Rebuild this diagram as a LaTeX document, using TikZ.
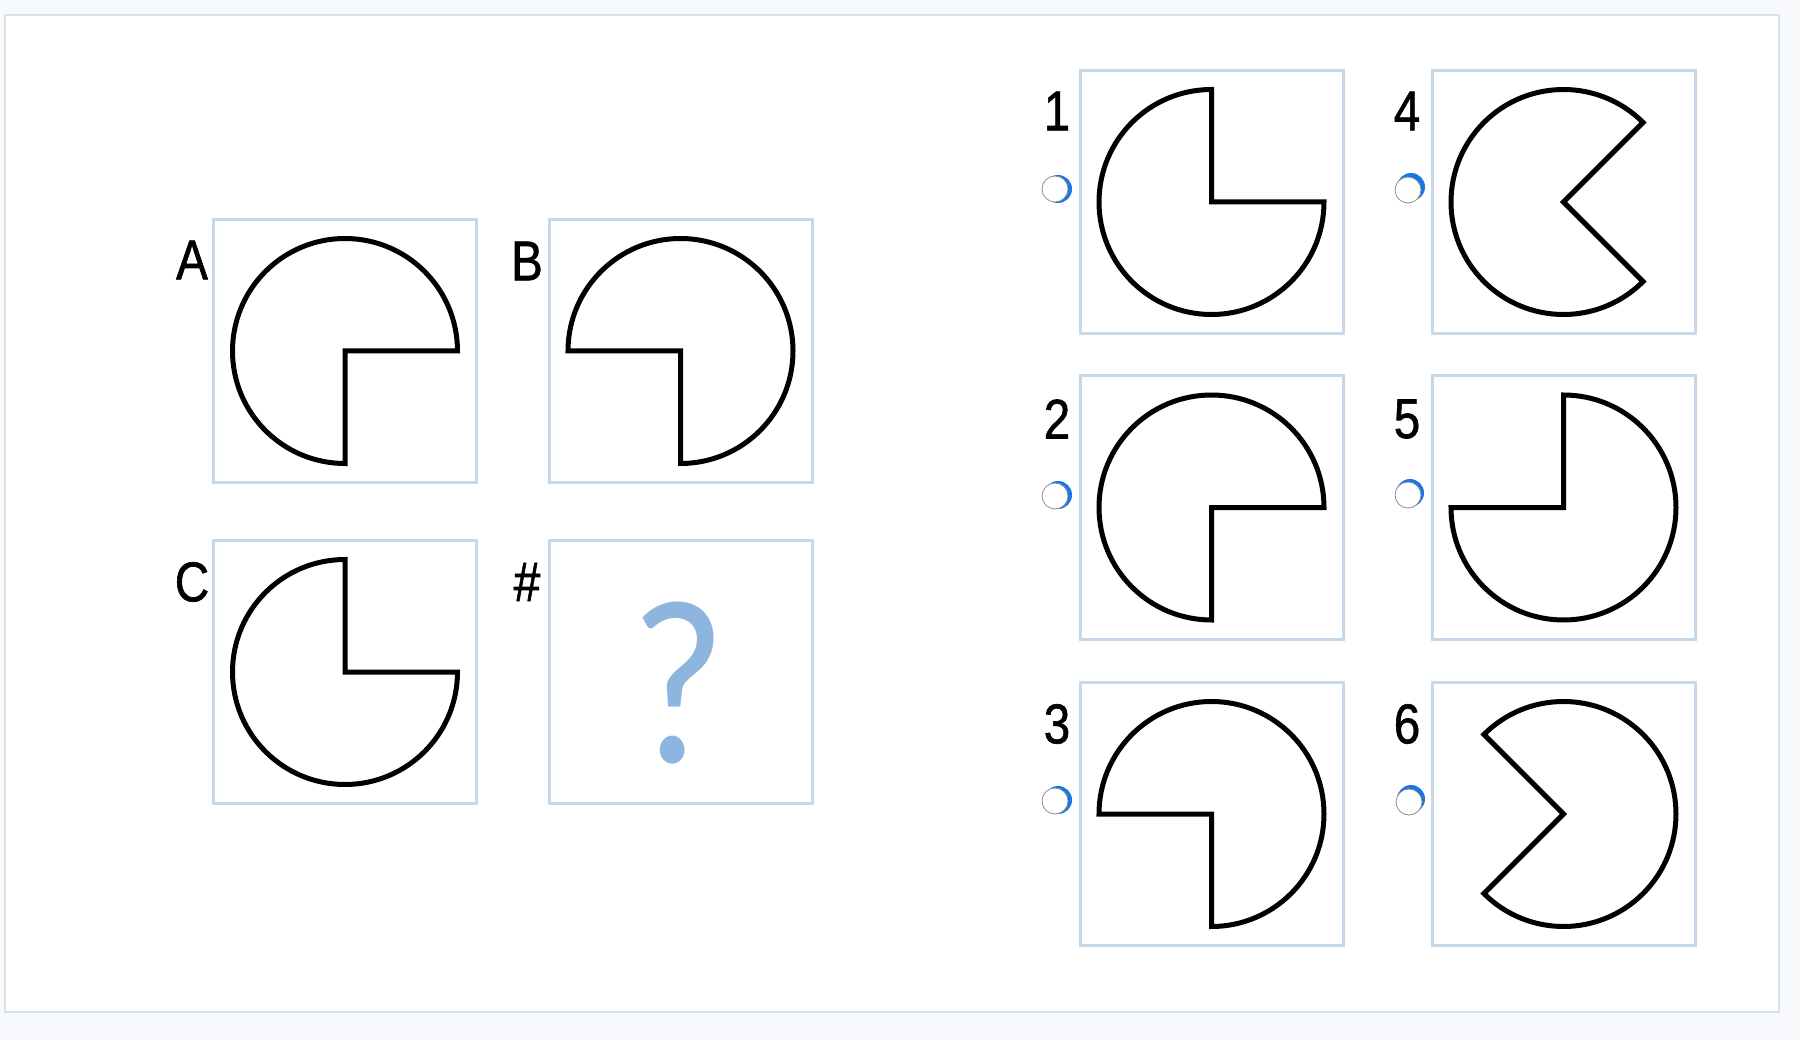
\documentclass[tikz,border=0pt]{standalone}
\usepackage{graphicx}
\usepackage{fontspec}
\setmainfont{Liberation Sans}
\newfontfamily\labfont[FakeBold=1.2]{Liberation Sans}
\newfontfamily\qfont{Carlito}
\definecolor{boxcol}{RGB}{198,215,234}
\definecolor{framecol}{RGB}{216,224,232}
\definecolor{bgcol}{RGB}{247,249,252}
\definecolor{qcol}{RGB}{141,181,224}
\definecolor{radioblue}{RGB}{25,118,230}
\newcommand\lab[1]{\scalebox{0.85}[1]{#1}}
\newcommand\pieshape[3]{\draw[figline] (#1.center) -- ++(#2:112.5) arc[start angle=#2,end angle=#3,radius=112.5] -- cycle;}
\begin{document}
\begin{tikzpicture}[x=1pt,y=-1pt,
  optbox/.style={draw=boxcol,line width=3pt,minimum size=263pt,inner sep=0pt},
  figline/.style={draw=black,line width=5pt,line join=miter,fill=white},
  lbl/.style={font=\labfont\fontsize{56}{60}\selectfont,inner sep=0pt},
  radiobtn/.style={circle,draw=black!45,line width=0.8pt,fill=white,minimum size=26pt,inner sep=0pt},
  radioshadow/.style={circle,fill=radioblue,minimum size=28pt,inner sep=0pt}]
\useasboundingbox (0,0) rectangle (1800,1040);
\fill[bgcol] (0,0) rectangle (1800,1040);
\draw[framecol,line width=2pt,fill=white] (5,15) rectangle (1779,1012);

% left grid
\node[optbox] (bA) at (345,351) {};
\node[optbox] (bB) at (680.5,351) {};
\node[optbox] (bC) at (345,672) {};
\node[optbox] (bQ) at (680.5,672) {};
\node[lbl] (lA) at (192,260) {\lab{A}};
\node[lbl] (lB) at (527,261) {\lab{B}};
\node[lbl] (lC) at (192,582) {\lab{C}};
\node[lbl] (lQ) at (527,582) {\lab{\#}};
\pieshape{bA}{0}{-270}
\pieshape{bB}{-270}{-540}
\pieshape{bC}{-90}{-360}
\node[font=\qfont\fontsize{235}{240}\selectfont,text=qcol,inner sep=0pt] (q) at (678,683) {\scalebox{0.88}[1]{?}};

% right grid
\node[optbox] (b1) at (1211.5,202) {};
\node[optbox] (b2) at (1211.5,507.5) {};
\node[optbox] (b3) at (1211.5,814) {};
\node[optbox] (b4) at (1563.5,202) {};
\node[optbox] (b5) at (1563.5,507.5) {};
\node[optbox] (b6) at (1563.5,814) {};
\node[lbl] (l1) at (1057,111) {\lab{1}};
\node[lbl] (l2) at (1057,419) {\lab{2}};
\node[lbl] (l3) at (1057,724) {\lab{3}};
\node[lbl] (l4) at (1407,111) {\lab{4}};
\node[lbl] (l5) at (1407,419) {\lab{5}};
\node[lbl] (l6) at (1407,724) {\lab{6}};
\pieshape{b1}{-90}{-360}
\pieshape{b2}{0}{-270}
\pieshape{b3}{-270}{-540}
\pieshape{b4}{-45}{-315}
\pieshape{b5}{-180}{-450}
\pieshape{b6}{-225}{-495}

% radio buttons
\node[radioshadow] (s1) at (1058,189) {};
\node[radiobtn] (r1) at (1055,189) {};
\node[radioshadow] (s2) at (1058,495) {};
\node[radiobtn] (r2) at (1055,496) {};
\node[radioshadow] (s3) at (1058,800) {};
\node[radiobtn] (r3) at (1055,801) {};
\node[radioshadow] (s4) at (1411,187) {};
\node[radiobtn] (r4) at (1408,190) {};
\node[radioshadow] (s5) at (1410,493) {};
\node[radiobtn] (r5) at (1408,495) {};
\node[radioshadow] (s6) at (1411,799) {};
\node[radiobtn] (r6) at (1409,802) {};
\end{tikzpicture}
\end{document}
